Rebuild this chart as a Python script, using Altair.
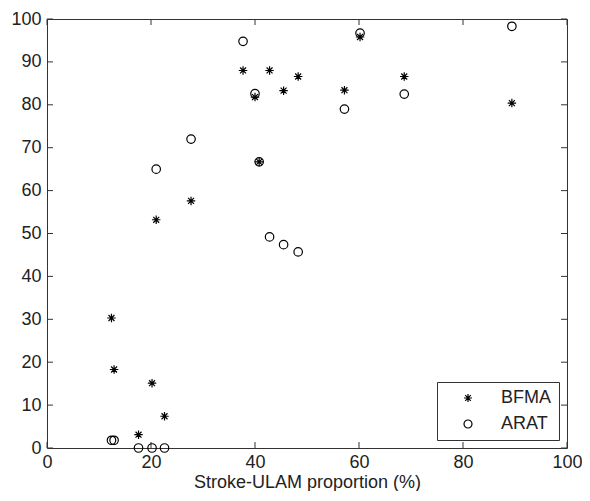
import altair as alt
import pandas as pd

# Data (per patient: Stroke-ULAM proportion, BFMA, ARAT)
ulam = [12.4, 12.9, 17.6, 20.2, 22.6, 21.0, 27.7, 37.7, 40.0, 40.8, 42.8, 45.5, 48.3, 57.2, 60.2, 68.7, 89.4]
bfma = [30.3, 18.3, 3.1, 15.1, 7.4, 53.2, 57.6, 88.0, 81.8, 66.7, 88.0, 83.3, 86.6, 83.4, 95.8, 86.6, 80.4]
arat = [1.8, 1.8, 0.0, 0.0, 0.0, 65.0, 72.0, 94.8, 82.6, 66.7, 49.2, 47.4, 45.7, 79.0, 96.7, 82.5, 98.3]
series = ["BFMA", "ARAT"]
x_ticks = [0, 20, 40, 60, 80, 100]
y_ticks = [0, 10, 20, 30, 40, 50, 60, 70, 80, 90, 100]

rows = []
for xv, b, a in zip(ulam, bfma, arat):
    rows.append({"x": xv, "y": b, "measure": "BFMA"})
    rows.append({"x": xv, "y": a, "measure": "ARAT"})
df = pd.DataFrame(rows)
xt = pd.DataFrame({"v": x_ticks})
yt = pd.DataFrame({"v": y_ticks})

W, H = 520, 429
FONT = "Liberation Sans"
LINE = "#333333"
ASTERISK = "M-1,0L1,0M0,-1L0,1M-0.7,-0.7L0.7,0.7M-0.7,0.7L0.7,-0.7"

xscale = alt.Scale(domain=[0, 100], nice=False, zero=False)
yscale = alt.Scale(domain=[0, 100], nice=False, zero=False)

points = alt.Chart(df).mark_point(filled=False, strokeWidth=1.2, color="black", opacity=1, size=72).encode(
    x=alt.X("x:Q", scale=xscale,
            axis=alt.Axis(values=x_ticks, title="Stroke-ULAM proportion (%)", labelPadding=5)),
    y=alt.Y("y:Q", scale=yscale, axis=alt.Axis(values=y_ticks, title=None, labelPadding=6)),
    shape=alt.Shape("measure:N",
                    scale=alt.Scale(domain=series, range=[ASTERISK, "circle"]),
                    legend=alt.Legend(title=None, orient="bottom-right")),
)

tick_len = 6
bottom_ticks = alt.Chart(xt).mark_rule(color=LINE, strokeWidth=1).encode(
    x=alt.X("v:Q", scale=xscale), y=alt.value(H), y2=alt.value(H - tick_len))
top_ticks = alt.Chart(xt).mark_rule(color=LINE, strokeWidth=1).encode(
    x=alt.X("v:Q", scale=xscale), y=alt.value(0), y2=alt.value(tick_len))
left_ticks = alt.Chart(yt).mark_rule(color=LINE, strokeWidth=1).encode(
    y=alt.Y("v:Q", scale=yscale), x=alt.value(0), x2=alt.value(tick_len))
right_ticks = alt.Chart(yt).mark_rule(color=LINE, strokeWidth=1).encode(
    y=alt.Y("v:Q", scale=yscale), x=alt.value(W), x2=alt.value(W - tick_len))

chart = alt.layer(bottom_ticks, top_ticks, left_ticks, right_ticks, points).properties(
    width=W, height=H,
    autosize=alt.AutoSizeParams(type="none"),
    padding={"left": 39, "top": 11, "right": 15, "bottom": 43},
    background="white",
).configure_view(
    stroke=LINE, strokeWidth=1
).configure_axis(
    grid=False, ticks=False, tickSize=0, domain=False,
    labelFontSize=18, titleFontSize=18, titleFontWeight="normal",
    labelFont=FONT, titleFont=FONT, labelColor="#222", titleColor="#222",
    labelFlush=False,
).configure_axisX(
    titleBaseline="alphabetic", titleY=39,
).configure_legend(
    offset=8, strokeColor=LINE, fillColor="white", padding=7,
    symbolOffset=15, labelOffset=24, rowPadding=8,
    labelFontSize=18, labelFont=FONT, labelColor="#222",
    symbolSize=64, symbolStrokeColor="black", symbolStrokeWidth=1.2,
)

chart.save("out.html", embed_options={"renderer": "svg", "actions": False})
